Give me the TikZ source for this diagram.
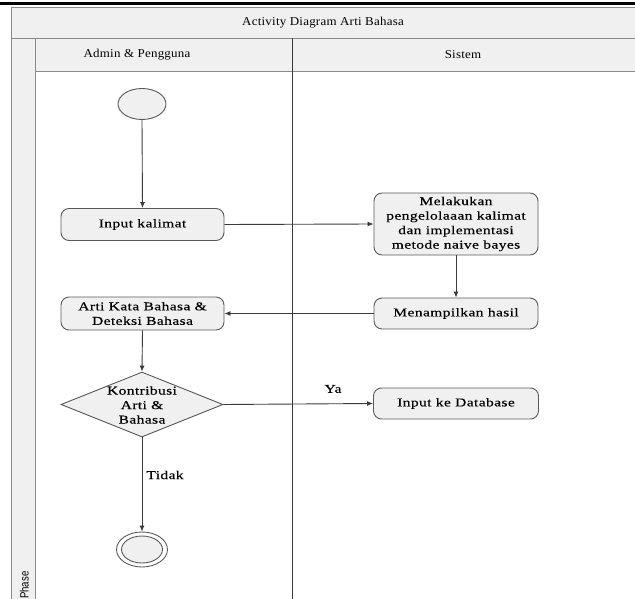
\documentclass[tikz,border=0pt]{standalone}
\usepackage{fontspec}
\setmainfont{Liberation Serif}
\newfontfamily\actfont{Liberation Serif}[FakeStretch=1.3,LetterSpace=3,FakeBold=0.3]
\newfontfamily\headfont{Liberation Serif}[FakeStretch=1.08,LetterSpace=2]
\newfontfamily\phasefont{Liberation Sans}[FakeStretch=0.8]
\usetikzlibrary{shapes.geometric,arrows.meta}
\definecolor{panel}{HTML}{F0F0F0}
\definecolor{framec}{HTML}{8A8A8A}
\definecolor{edgec}{HTML}{5A5A5A}
\definecolor{wirec}{HTML}{3A3A3A}
\tikzset{
  action/.style={draw=edgec, fill=panel, rounded corners=8pt, line width=0.9pt,
    align=center, font=\actfont\fontsize{12}{14.5}\selectfont, inner sep=0pt},
  frame/.style={draw=framec, fill=panel, line width=0.9pt},
  flow/.style={draw=wirec, line width=0.9pt, -{Latex[length=6pt,width=5pt]}},
  lbl/.style={font=\actfont\fontsize{12}{14.5}\selectfont, inner sep=0pt},
  headtext/.style={font=\headfont\fontsize{12}{14}\selectfont},
}
\begin{document}
\begin{tikzpicture}[x=1pt,y=-1pt]
\useasboundingbox (0,0) rectangle (635,599);
% header rule
\draw[black, line width=2.5pt] (0,3.5) -- (635,3.5);
% swimlane frame
\draw[frame] (11,7) rectangle (640,38);
\node[headtext] (title) at (323,23) {Activity Diagram Arti Bahasa};
\draw[frame] (35,38) rectangle (640,71);
\draw[frame] (11,38) rectangle (35,605);
\draw[draw=wirec, line width=1pt] (292,38) -- (292,605);
\node[headtext] (laneA) at (137,55) {Admin \& Pengguna};
\node[headtext] (laneB) at (463,55) {Sistem};
\node[font=\phasefont\fontsize{12}{14}\selectfont, rotate=90, anchor=base west, inner sep=0pt] (phase) at (28.5,599) {Phase};
% activity nodes
\node[ellipse, draw=edgec, fill=panel, line width=0.9pt, minimum width=48pt, minimum height=31pt, inner sep=0pt] (start) at (142,104) {};
\node[action, minimum width=163pt, minimum height=32pt] (inp) at (142.5,224.5) {Input kalimat};
\node[action, minimum width=164pt, minimum height=62pt] (proc) at (456,224) {Melakukan\\pengelolaaan kalimat\\dan implementasi\\metode naive bayes};
\node[action, minimum width=164pt, minimum height=31pt] (show) at (456,313.5) {Menampilkan hasil};
\node[action, minimum width=163pt, minimum height=33pt] (res) at (142.5,313.5) {Arti Kata Bahasa \&\\Deteksi Bahasa};
\node[diamond, draw=edgec, fill=panel, line width=0.9pt, minimum width=162pt, minimum height=65pt, inner sep=0pt] (dec) at (142,404.5) {};
\node[lbl, align=center] (dectext) at (142,405) {Kontribusi\\Arti \&\\Bahasa};
\node[action, minimum width=165pt, minimum height=31pt] (db) at (456,403.5) {Input ke Database};
\node[ellipse, draw=edgec, line width=0.9pt, minimum width=51pt, minimum height=35pt, inner sep=0pt] (end) at (142,549.5) {};
\node[ellipse, draw=edgec, fill=panel, line width=0.9pt, minimum width=41pt, minimum height=27pt, inner sep=0pt] (endin) at (142,549.5) {};
% control flow
\draw[flow] (start.south) -- (inp.north);
\draw[flow] (inp.east) -- (proc.west);
\draw[flow] (proc.south) -- (show.north);
\draw[flow] (show.west) -- (res.east);
\draw[flow] (res.south) -- (dec.north);
\draw[flow] (dec.east) -- (db.west);
\draw[flow] (dec.south) -- (end.north);
\node[lbl] (ya) at (333,389) {Ya};
\node[lbl] (tidak) at (165,475) {Tidak};
\end{tikzpicture}
\end{document}
